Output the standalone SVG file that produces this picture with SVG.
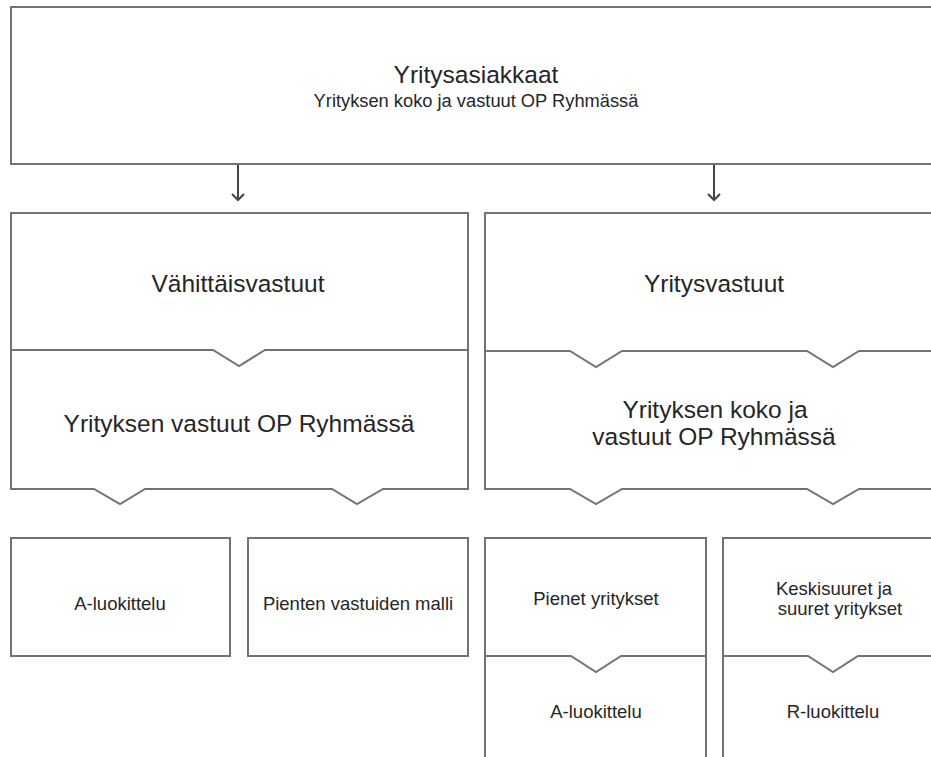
<svg xmlns="http://www.w3.org/2000/svg" width="931" height="757" viewBox="0 0 931 757">
<style>
.box{fill:#fff;stroke:#737373;stroke-width:2;stroke-linejoin:miter}
.ln{fill:none;stroke:#737373;stroke-width:2}
.conn{fill:none;stroke:#444;stroke-width:2}
text{font-family:"Liberation Sans",Arial,sans-serif;fill:#262626;text-anchor:middle}
.big{font-size:24.5px}
.sub{font-size:18.3px}
.sm{font-size:18.5px}
</style>
<rect width="931" height="757" fill="#fff"/>
<g id="top">
<rect class="box" x="11" y="7" width="940" height="157"/>
<text class="big" x="476" y="83">Yritysasiakkaat</text>
<text class="sub" x="476" y="107">Yrityksen koko ja vastuut OP Ryhmässä</text>
</g>
<g id="connectors">
<path class="conn" d="M238,165 V200 M232,194 L238,200 L244,194"/>
<path class="conn" d="M714,165 V200 M708,194 L714,200 L720,194"/>
</g>
<g id="vahittais">
<path class="box" d="M11,213 H468 V489 H383 L357,504 L332,489 H145 L120,504 L94,489 H11 Z"/>
<path class="ln" d="M11,350 H213 L239,366 L265,350 H468"/>
<text class="big" x="238" y="292">Vähittäisvastuut</text>
<text class="big" x="239" y="432">Yrityksen vastuut OP Ryhmässä</text>
</g>
<g id="yritys">
<path class="box" d="M485,213 H951 V489 H859 L833,504 L807,489 H622 L596,504 L570,489 H485 Z"/>
<path class="ln" d="M485,351 H570 L596,367 L622,351 H807 L833,367 L859,351 H951"/>
<text class="big" x="714" y="292">Yritysvastuut</text>
<text class="big" x="715" y="418">Yrityksen koko ja</text>
<text class="big" x="714" y="445">vastuut OP Ryhmässä</text>
</g>
<g id="aluok1">
<rect class="box" x="11" y="538" width="219" height="118"/>
<text class="sm" x="120" y="610">A-luokittelu</text>
</g>
<g id="pienten">
<rect class="box" x="248" y="538" width="220" height="118"/>
<text class="sm" x="358" y="610">Pienten vastuiden malli</text>
</g>
<g id="pienet">
<path class="box" d="M485,770 V538 H706 V770"/>
<path class="ln" d="M485,656 H571 L596,672 L621,656 H706"/>
<text class="sm" x="596" y="605">Pienet yritykset</text>
<text class="sm" x="596" y="718">A-luokittelu</text>
</g>
<g id="keskisuuret">
<path class="box" d="M723,770 V538 H951"/>
<path class="ln" d="M723,656 H808 L833,672 L858,656 H951"/>
<text class="sm" x="834" y="595">Keskisuuret ja</text>
<text class="sm" x="840" y="615">suuret yritykset</text>
<text class="sm" x="833" y="718">R-luokittelu</text>
</g>
</svg>
